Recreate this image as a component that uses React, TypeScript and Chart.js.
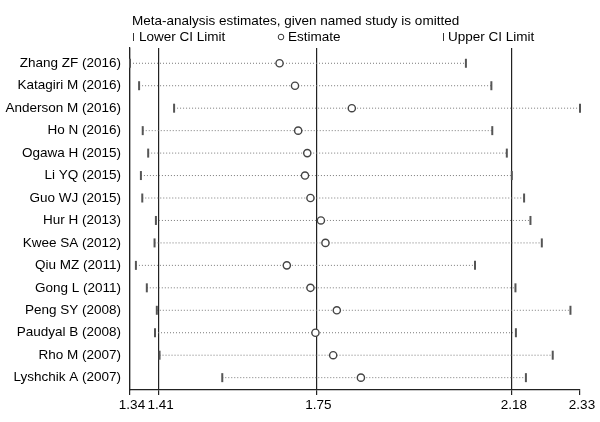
import React, { useEffect, useRef } from "react";
import { Chart, registerables } from "chart.js";

Chart.register(...registerables);

const studies = [
  "Zhang ZF (2016)",
  "Katagiri M (2016)",
  "Anderson M (2016)",
  "Ho N (2016)",
  "Ogawa H (2015)",
  "Li YQ (2015)",
  "Guo WJ (2015)",
  "Hur H (2013)",
  "Kwee SA (2012)",
  "Qiu MZ (2011)",
  "Gong L (2011)",
  "Peng SY (2008)",
  "Paudyal B (2008)",
  "Rho M (2007)",
  "Lyshchik A (2007)",
];

const lowerCI = [1.34, 1.36, 1.437, 1.368, 1.38, 1.364, 1.367, 1.397, 1.394, 1.353, 1.377, 1.399, 1.395, 1.405, 1.543];
const estimates = [1.669, 1.703, 1.828, 1.71, 1.73, 1.725, 1.737, 1.76, 1.77, 1.685, 1.737, 1.795, 1.748, 1.787, 1.848];
const upperCI = [2.079, 2.135, 2.33, 2.137, 2.169, 2.18, 2.207, 2.221, 2.246, 2.099, 2.188, 2.309, 2.189, 2.27, 2.211];

const axisTickValues = [1.34, 1.403, 1.75, 2.18, 2.33];
const axisTickLabels = ["1.34", "1.41", "1.75", "2.18", "2.33"];

const titleText = "Meta-analysis estimates, given named study is omitted";
const legendLabels = ["Lower CI Limit", "Estimate", "Upper CI Limit"];

const FONT = "'Liberation Sans', Arial, Helvetica, sans-serif";
const FS = 13.5;

const headerPlugin = {
  id: "header",
  afterDraw(chart: any) {
    const ctx = chart.ctx;
    ctx.save();
    ctx.fillStyle = "#000";
    ctx.font = `${FS}px ${FONT}`;
    ctx.textBaseline = "middle";
    ctx.textAlign = "left";
    ctx.fillText(titleText, 132, 21);
    const ly = 37;
    ctx.strokeStyle = "#333";
    ctx.lineWidth = 1;
    ctx.beginPath();
    ctx.moveTo(133.5, ly - 4);
    ctx.lineTo(133.5, ly + 4);
    ctx.stroke();
    ctx.fillText(legendLabels[0], 139, ly);
    ctx.beginPath();
    ctx.arc(281, ly, 2.8, 0, Math.PI * 2);
    ctx.stroke();
    ctx.fillText(legendLabels[1], 288, ly);
    ctx.beginPath();
    ctx.moveTo(443.5, ly - 4);
    ctx.lineTo(443.5, ly + 4);
    ctx.stroke();
    ctx.fillText(legendLabels[2], 448, ly);
    ctx.restore();
  },
};

export default function App() {
  const ref = useRef<HTMLCanvasElement | null>(null);

  useEffect(() => {
    if (!ref.current) return;
    const rangeSets = studies.map((_, i) => ({
      type: "scatter" as const,
      data: [
        { x: lowerCI[i], y: i },
        { x: upperCI[i], y: i },
      ],
      showLine: true,
      borderColor: "#7a7a7a",
      borderWidth: 1,
      borderDash: [1, 2],
      pointRadius: 0,
      clip: false as any,
      order: 3,
    }));
    const chart = new Chart(ref.current, {
      type: "scatter",
      data: {
        datasets: [
          ...rangeSets,
          {
            data: lowerCI.map((v, i) => ({ x: v, y: i })),
            pointStyle: "line",
            rotation: 90,
            pointRadius: 4.5,
            pointBorderWidth: 2,
            pointBorderColor: "#555",
            pointBackgroundColor: "#555",
            clip: false as any,
            order: 2,
          } as any,
          {
            data: upperCI.map((v, i) => ({ x: v, y: i })),
            pointStyle: "line",
            rotation: 90,
            pointRadius: 4.5,
            pointBorderWidth: 2,
            pointBorderColor: "#555",
            pointBackgroundColor: "#555",
            clip: false as any,
            order: 2,
          } as any,
          {
            data: estimates.map((v, i) => ({ x: v, y: i })),
            pointStyle: "circle",
            pointRadius: 3.6,
            pointBorderWidth: 1.4,
            pointBorderColor: "#444",
            pointBackgroundColor: "#fff",
            clip: false as any,
            order: 1,
          } as any,
        ],
      },
      options: {
        responsive: false,
        animation: false,
        devicePixelRatio: 1,
        layout: { padding: { top: 48, right: 20, left: 0, bottom: 0 } },
        plugins: {
          legend: { display: false },
          tooltip: { enabled: false },
          title: { display: false },
        },
        scales: {
          x: {
            type: "linear",
            min: axisTickValues[0],
            max: axisTickValues[axisTickValues.length - 1],
            afterBuildTicks: (scale: any) => {
              scale.ticks = axisTickValues.map((v) => ({ value: v }));
            },
            afterFit: (scale: any) => {
              scale.height = 32;
            },
            ticks: {
              autoSkip: false,
              maxRotation: 0,
              padding: 2,
              labelOffset: 2,
              color: "#000",
              font: { family: FONT, size: FS },
              callback: (_v: any, idx: number) => axisTickLabels[idx],
            },
            grid: {
              display: true,
              drawOnChartArea: true,
              drawTicks: true,
              tickLength: 5,
              lineWidth: 1.2,
              color: (ctx: any) =>
                ctx.tick && ctx.tick.value === axisTickValues[axisTickValues.length - 1]
                  ? "rgba(0,0,0,0)"
                  : "#222",
              tickColor: "#222",
            },
            border: { display: true, color: "#222", width: 1.2 },
          },
          y: {
            type: "linear",
            reverse: true,
            min: -0.68,
            max: 14.55,
            afterBuildTicks: (scale: any) => {
              scale.ticks = studies.map((_, i) => ({ value: i }));
            },
            afterFit: (scale: any) => {
              scale.width = 130;
            },
            ticks: {
              autoSkip: false,
              padding: 9,
              color: "#000",
              font: { family: FONT, size: FS },
              callback: (v: any) => studies[Math.round(v)] ?? "",
            },
            grid: { display: false, drawTicks: false },
            border: { display: true, color: "#222", width: 1.2 },
          },
        },
      } as any,
      plugins: [headerPlugin],
    });
    return () => chart.destroy();
  }, []);

  return (
    <div style={{ position: "absolute", left: 0, top: 0, width: 600, height: 422, background: "#fff" }}>
      <canvas ref={ref} width={600} height={422} style={{ width: 600, height: 422 }} />
    </div>
  );
}
